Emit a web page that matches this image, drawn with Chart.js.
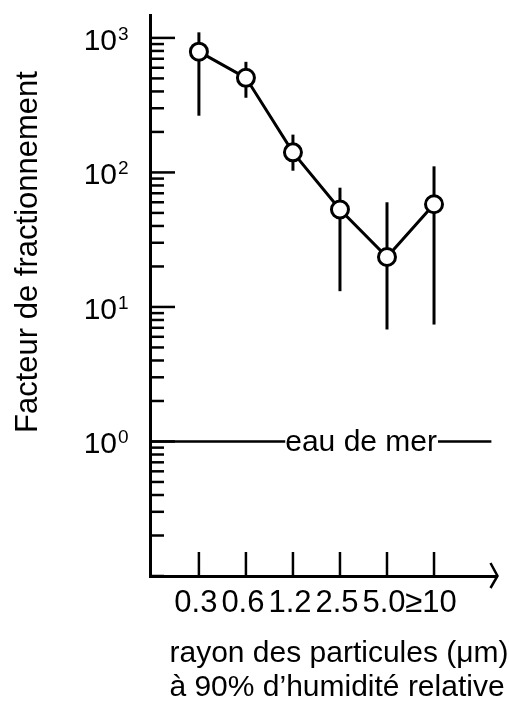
<!DOCTYPE html>
<html>
<head>
<meta charset="utf-8">
<script src="https://cdn.jsdelivr.net/npm/chart.js@4.4.1/dist/chart.umd.min.js"></script>
<style>
  html, body { margin: 0; padding: 0; background: #fff; }
</style>
</head>
<body>
<canvas id="myChart" width="509" height="708"></canvas>
<script>
// particle radius classes (x categories)
const categories = ["0.3", "0.6", "1.2", "2.5", "5.0", "≥10"];
// fractionation factor, with error bar limits
const fractionation = [790, 505, 141, 53, 23.5, 58];
const errorHigh = [1100, 664, 191, 77, 60, 111];
const errorLow = [264, 359, 103, 13.1, 6.8, 7.4];
// labelled decades on the log axis
const yDecades = [1, 10, 100, 1000];
const yExponents = ["0", "1", "2", "3"];
const seaWaterLevel = 1;
const seaWaterLabel = "eau de mer";
const yTitle = "Facteur de fractionnement";
const xTitleLines = ["rayon des particules (μm)", "à 90% d’humidité relative"];

const FONT = '"Liberation Sans", Arial, Helvetica, sans-serif';

const figurePlugin = {
  id: "figure",
  beforeDatasetsDraw(chart) {
    const { ctx, scales: { x, y } } = chart;
    ctx.save();
    ctx.strokeStyle = "#000";
    ctx.lineWidth = 3;
    // error bars, behind the markers
    categories.forEach((c, i) => {
      const px = x.getPixelForValue(i);
      ctx.beginPath();
      ctx.moveTo(px, y.getPixelForValue(errorHigh[i]));
      ctx.lineTo(px, y.getPixelForValue(errorLow[i]));
      ctx.stroke();
    });

    // sea water reference line with its label in the middle
    const sy = y.getPixelForValue(seaWaterLevel);
    ctx.font = "30px " + FONT;
    const tw = ctx.measureText(seaWaterLabel).width;
    const cx = x.getPixelForValue(3.45);
    ctx.lineWidth = 2.5;
    ctx.beginPath();
    ctx.moveTo(x.left, sy);
    ctx.lineTo(cx - tw / 2, sy);
    ctx.moveTo(cx + tw / 2 + 1, sy);
    ctx.lineTo(x.getPixelForValue(6.22), sy);
    ctx.stroke();
    ctx.fillStyle = "#000";
    ctx.textAlign = "center";
    ctx.textBaseline = "alphabetic";
    ctx.fillText(seaWaterLabel, cx, sy + 10);
    ctx.restore();
  },
  afterDraw(chart) {
    const { ctx, scales: { x, y } } = chart;
    ctx.save();
    ctx.strokeStyle = "#000";
    ctx.fillStyle = "#000";

    // inward ticks on y axis (long at decades)
    ctx.lineWidth = 2.5;
    y.ticks.forEach((t) => {
      const py = y.getPixelForValue(t.value);
      const len = t.major ? 25 : 14;
      ctx.beginPath();
      ctx.moveTo(y.right, py);
      ctx.lineTo(y.right + len, py);
      ctx.stroke();
    });

    // inward ticks on x axis
    x.ticks.forEach((t) => {
      const px = x.getPixelForValue(t.value);
      ctx.beginPath();
      ctx.moveTo(px, x.top);
      ctx.lineTo(px, x.top - 24);
      ctx.stroke();
    });

    // arrow head at the end of x axis
    ctx.lineWidth = 2.5;
    ctx.beginPath();
    ctx.moveTo(x.right - 7, x.top - 13);
    ctx.lineTo(x.right, x.top);
    ctx.lineTo(x.right - 7, x.top + 12);
    ctx.stroke();

    // y labels 10^n
    yDecades.forEach((v, i) => {
      const py = y.getPixelForValue(v);
      ctx.font = "30px " + FONT;
      ctx.textAlign = "right";
      ctx.textBaseline = "alphabetic";
      ctx.fillText("10", 117, py + 12);
      ctx.font = "19px " + FONT;
      ctx.textAlign = "left";
      ctx.fillText(yExponents[i], 118, py + 2);
    });

    // x category labels
    ctx.font = "31px " + FONT;
    ctx.textAlign = "center";
    ctx.textBaseline = "alphabetic";
    categories.forEach((c, i) => {
      ctx.fillText(c, x.getPixelForValue(i) - 3, 612);
    });

    // axis titles
    ctx.font = "30px " + FONT;
    ctx.fillText(xTitleLines[0], 339, 662);
    ctx.fillText(xTitleLines[1], 337, 696);

    ctx.translate(28, 252);
    ctx.rotate(-Math.PI / 2);
    ctx.font = "31px " + FONT;
    ctx.textBaseline = "middle";
    ctx.fillText(yTitle, 0, 0);
    ctx.restore();
  }
};

const ctx = document.getElementById("myChart").getContext("2d");
new Chart(ctx, {
  type: "line",
  data: {
    datasets: [
      {
        data: fractionation.map((v, i) => ({ x: i, y: v })),
        borderColor: "#000",
        borderWidth: 3,
        pointRadius: 8.5,
        pointBorderWidth: 3,
        pointBackgroundColor: "#fff",
        pointBorderColor: "#000",
        tension: 0,
        fill: false,
      },
    ],
  },
  options: {
    responsive: false,
    animation: false,
    layout: { padding: { left: 150, right: 4, top: 15, bottom: 132 } },
    plugins: {
      legend: { display: false },
      tooltip: { enabled: false },
    },
    scales: {
      x: {
        type: "linear",
        min: -1.04,
        max: 6.35,
        grid: { display: false, drawTicks: false },
        ticks: { display: false },
        border: { display: true, color: "#000", width: 3 },
        afterBuildTicks: (s) => {
          s.ticks = categories.map((c, i) => ({ value: i }));
        },
      },
      y: {
        type: "logarithmic",
        min: 0.1,
        max: 1480,
        grid: { display: false, drawTicks: false },
        ticks: { display: false },
        border: { display: true, color: "#000", width: 3 },
        afterBuildTicks: (s) => {
          const ticks = [];
          [0.1].concat(yDecades).forEach((d) => {
            for (let k = 1; k <= 9; k++) {
              const v = +(k * d).toPrecision(3);
              if (v >= s.min && v <= s.max) ticks.push({ value: v, major: k === 1 && d >= 1 });
            }
          });
          s.ticks = ticks;
        },
      },
    },
  },
  plugins: [figurePlugin],
});
</script>
</body>
</html>
